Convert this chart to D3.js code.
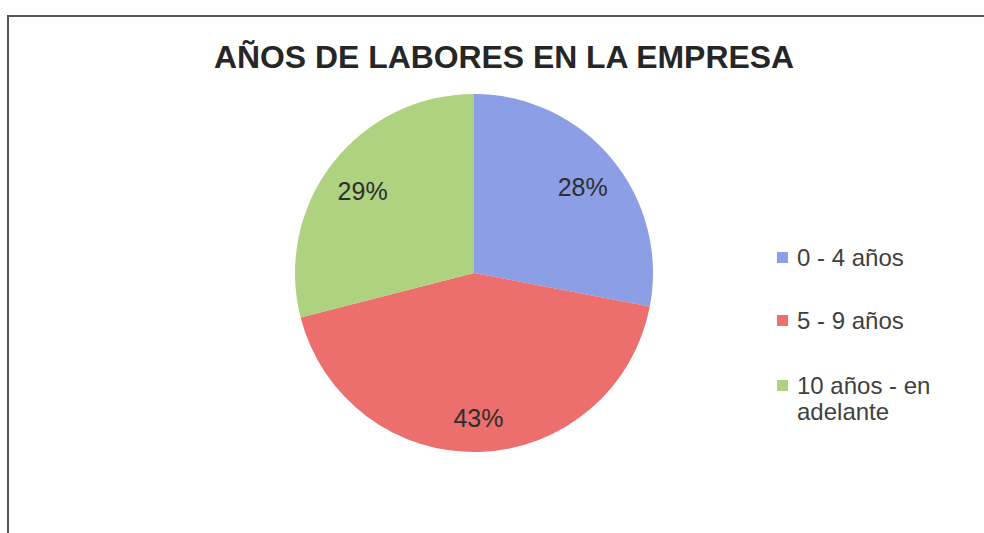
<!DOCTYPE html>
<html>
<head>
<meta charset="utf-8">
<script src="https://cdn.jsdelivr.net/npm/d3@7"></script>
<style>
  html, body { margin: 0; padding: 0; background: #fff; }
  svg { display: block; }
</style>
</head>
<body>
<svg id="chart" width="984" height="533"></svg>
<script>
// Chart data
const title = "AÑOS DE LABORES EN LA EMPRESA";
const categories = ["0 - 4 años", "5 - 9 años", "10 años - en adelante"];
const legendLines = [["0 - 4 años"], ["5 - 9 años"], ["10 años - en", "adelante"]];
const values = [28, 43, 29];
const colors = ["#8c9fe6", "#ec6e6d", "#aed27f"];

const svg = d3.select("#chart");
const W = 984, H = 533;

// Frame around the chart area
svg.append("rect").attr("width", W).attr("height", H).attr("fill", "#fff");
svg.append("path")
  .attr("d", `M8,${H} L8,16 L${W},16`)
  .attr("fill", "none")
  .attr("stroke", "#555")
  .attr("stroke-width", 2);

// Title
svg.append("text")
  .attr("x", 504).attr("y", 68)
  .attr("text-anchor", "middle")
  .attr("font-family", "'Liberation Sans', Arial, sans-serif")
  .attr("font-weight", "bold")
  .attr("font-size", 31)
  .attr("fill", "#262626")
  .attr("textLength", 580)
  .attr("lengthAdjust", "spacingAndGlyphs")
  .text(title);

// Pie
const cx = 474, cy = 273, R = 179;
const pie = d3.pie().sort(null).value(d => d)(values);
const arc = d3.arc().innerRadius(0).outerRadius(R);
const labelArc = d3.arc().innerRadius(141).outerRadius(141);

const g = svg.append("g").attr("transform", `translate(${cx},${cy})`);
g.selectAll("path.slice")
  .data(pie)
  .join("path")
  .attr("class", "slice")
  .attr("d", arc)
  .attr("fill", (d, i) => colors[i]);

const fmt = d3.format(".0%");
const total = d3.sum(values);
g.selectAll("text.lbl")
  .data(pie)
  .join("text")
  .attr("class", "lbl")
  .attr("transform", d => `translate(${labelArc.centroid(d)})`)
  .attr("text-anchor", "middle")
  .attr("dy", "0.52em")
  .attr("font-family", "'Liberation Sans', Arial, sans-serif")
  .attr("font-size", 25)
  .attr("fill", "#2e2e2e")
  .text(d => fmt(d.value / total));

// Legend: one text element per line so wrapped entries stack cleanly
const legendY = [258, 321, 386];
const lineGap = 26;
const lg = svg.append("g");
legendLines.forEach((lines, i) => {
  lg.append("rect")
    .attr("x", 777).attr("y", legendY[i] - 6)
    .attr("width", 11).attr("height", 11)
    .attr("fill", colors[i]);
  lines.forEach((ln, j) => {
    lg.append("text")
      .attr("x", 797).attr("y", legendY[i] + 8 + j * lineGap)
      .attr("font-family", "'Liberation Sans', Arial, sans-serif")
      .attr("font-size", 24)
      .attr("fill", "#404040")
      .text(ln);
  });
});
</script>
</body>
</html>
